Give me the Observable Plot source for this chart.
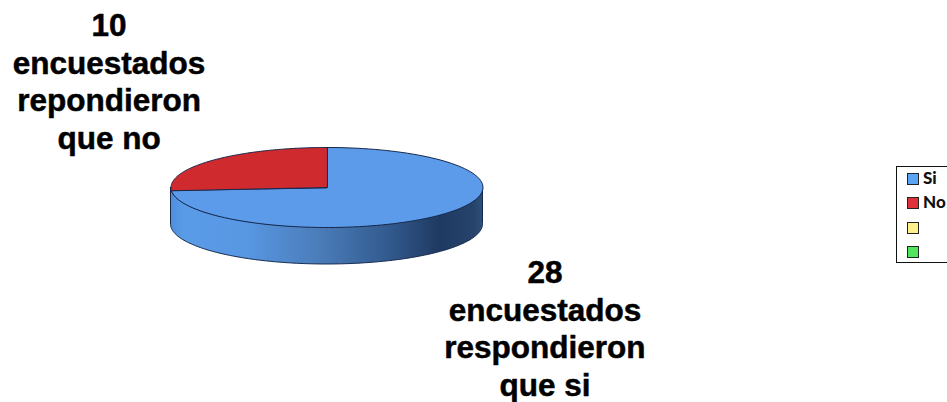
<!DOCTYPE html>
<html lang="es">
<head>
<meta charset="utf-8">
<script src="https://cdn.jsdelivr.net/npm/d3@7"></script>
<script src="https://cdn.jsdelivr.net/npm/@observablehq/plot@0.6"></script>
<style>
  html, body { margin: 0; padding: 0; background: #fff; overflow: hidden; }
  #chart { position: relative; width: 947px; height: 402px; overflow: hidden; }
  #chart svg { display: block; }
  #legend {
    position: absolute; left: 896px; top: 166px; width: 80px; height: 97px;
    box-sizing: border-box; border: 1px solid #111; background: #fff;
    font: 900 17px Lato, sans-serif; color: #111;
  }
  #legend .row { position: absolute; left: 10px; height: 12px; }
  #legend .swatch {
    position: absolute; left: 0; top: 0; width: 10px; height: 10px;
    border: 1px solid #222;
  }
  #legend .name { position: absolute; left: 16px; top: -6px; line-height: 22px; }
</style>
</head>
<body>
<div id="chart"></div>
<script>
// Survey answers
const categories = ["Si", "No"];
const respondents = [28, 10];
const verbs = ["respondieron", "repondieron"];
const answers = ["que si", "que no"];

// Legend entries (the last two carry no name)
const legendNames = ["Si", "No", "", ""];
const legendColors = ["#5ba3f3", "#e0303a", "#fff08a", "#52e35f"];
const legendTops = [6, 30, 55, 79];

const sliceColors = ["#5b9bea", "#cf2a2e"];
const edgeColor = "#16294d";
const sideStops = [
  [0, "#4f8dd8"], [0.04, "#5a9be8"], [0.24, "#5897e2"], [0.48, "#4a7cb9"],
  [0.7, "#325a8e"], [0.86, "#1f3a62"], [0.97, "#26436b"], [1, "#2e4f7a"]
];

// The pie is laid out in unit coordinates: radius 1, top face centred on 0,0.
const depth = 0.925;
const degrees = (d) => (d * Math.PI) / 180;
const total = d3.sum(respondents);
const startAngle = -90;

// Outline of one slice of the top face, from its share of the respondents.
function sliceOutline(from, to) {
  const steps = d3.range(0, 121).map((i) => from + ((to - from) * i) / 120);
  return [[0, 0], ...steps.map((a) => [Math.cos(degrees(a)), Math.sin(degrees(a))])];
}

let running = startAngle;
const slices = respondents.map((value, i) => {
  const from = running;
  running += (360 * value) / total;
  return { name: categories[i], color: sliceColors[i], outline: sliceOutline(from, running) };
});

// Front wall of the disc, below the visible half of the rim.
const rim = d3.range(0, 181).map((a) => ({
  x: Math.cos(degrees(a)),
  top: Math.sin(degrees(a)),
  bottom: Math.sin(degrees(a)) + depth
}));

// Each label sits beside its slice; y is the baseline of its last line.
const labelPlaces = [[1.397, 5.2], [-1.397, -0.975]];
const labels = respondents.map((value, i) => ({
  x: labelPlaces[i][0],
  y: labelPlaces[i][1],
  text: `${value}\nencuestados\n${verbs[i]}\n${answers[i]}`
}));

const sideGradient = () => {
  const defs = d3.create("svg:defs");
  const gradient = defs.append("linearGradient").attr("id", "pie-side");
  for (const [offset, color] of sideStops) {
    gradient.append("stop").attr("offset", offset).attr("stop-color", color);
  }
  return defs.node();
};

const chart = Plot.plot({
  width: 947,
  height: 402,
  margin: 0,
  style: { background: "transparent" },
  x: { domain: [-1, 1], range: [170.5, 482.5], axis: null },
  y: { domain: [-1, 1], range: [147, 227], axis: null },
  marks: [
    sideGradient,
    Plot.areaY(rim, {
      x: "x", y1: "top", y2: "bottom",
      fill: "url(#pie-side)", stroke: edgeColor, strokeWidth: 1
    }),
    ...slices.map((s) =>
      Plot.line(s.outline, {
        x: "0", y: "1", curve: "linear-closed",
        fill: s.color, stroke: edgeColor, strokeWidth: 1, strokeLinejoin: "round"
      })
    ),
    Plot.text(labels, {
      x: "x", y: "y", text: "text",
      lineAnchor: "bottom", lineHeight: 1.19, textAnchor: "middle",
      fontFamily: "'Liberation Sans', Arial, sans-serif",
      fontWeight: "bold", fontSize: 31.5, fill: "#000",
      stroke: "#000", strokeWidth: 0.5
    })
  ]
});

const root = document.getElementById("chart");
root.append(chart);

const legend = d3.select(root).append("div").attr("id", "legend");
legendNames.forEach((name, i) => {
  const row = legend.append("div").attr("class", "row").style("top", `${legendTops[i]}px`);
  row.append("div").attr("class", "swatch").style("background", legendColors[i]);
  row.append("div").attr("class", "name").text(name);
});
</script>
</body>
</html>
